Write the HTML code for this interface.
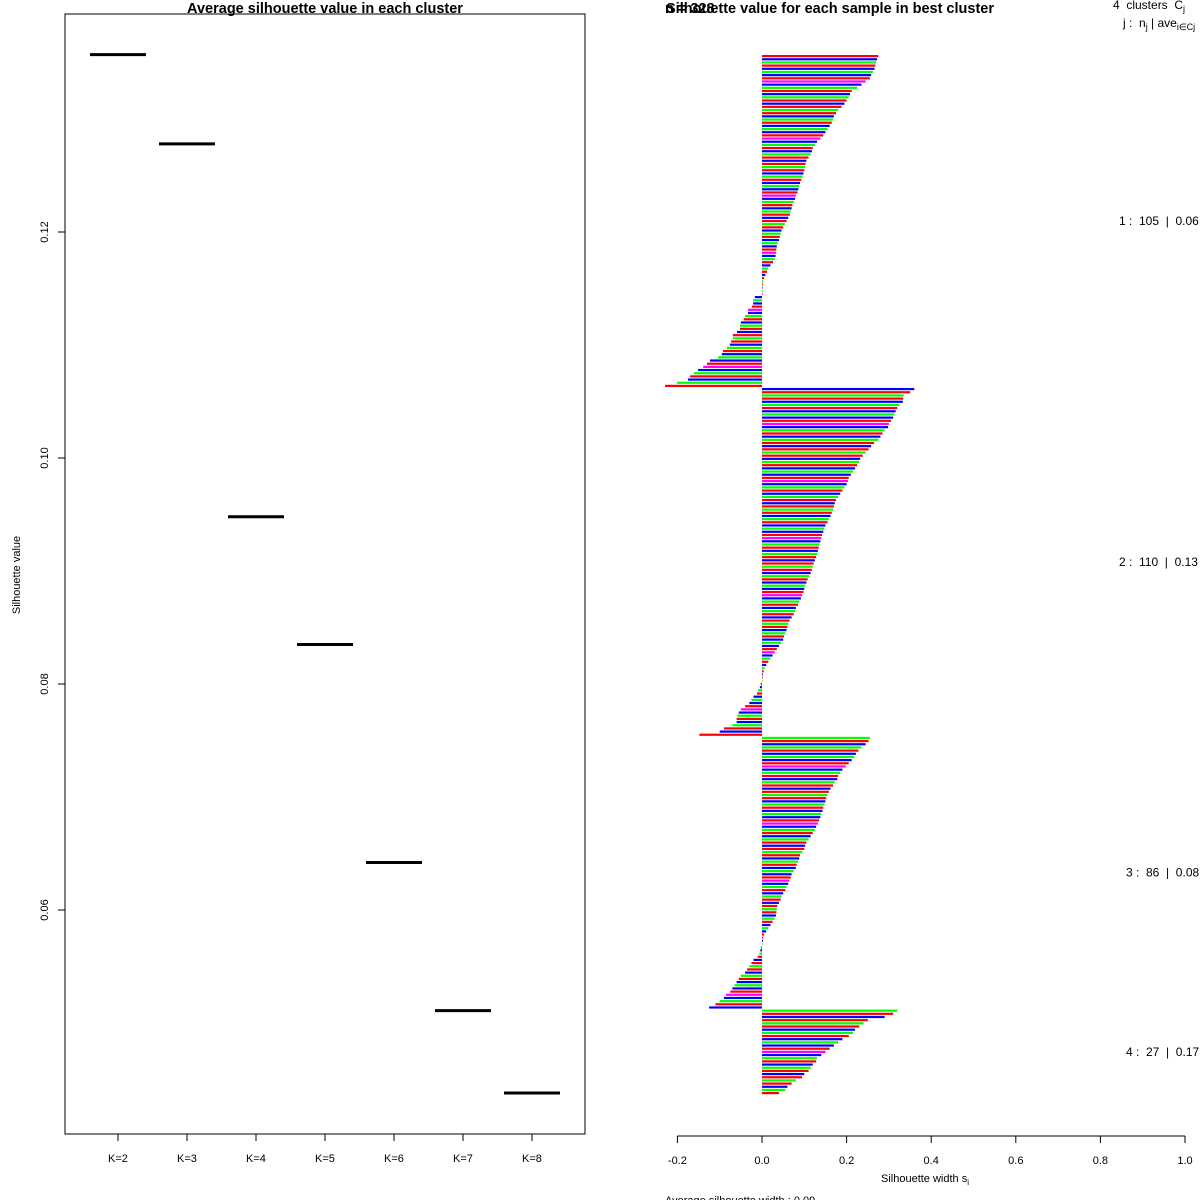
<!DOCTYPE html>
<html><head><meta charset="utf-8"><style>
body{margin:0;background:#fff}
svg{display:block;font-family:"Liberation Sans",sans-serif}
text{white-space:pre}
</style></head><body>
<svg id="s" width="1200" height="1200" viewBox="0 0 1200 1200">
<rect x="0" y="0" width="1200" height="1200" fill="#fff"/>
<g id="left">
<text x="325" y="13" text-anchor="middle" font-weight="bold" font-size="14.5">Average silhouette value in each cluster</text>
<rect x="65" y="14" width="520" height="1120" fill="none" stroke="#000" stroke-width="1"/>
<text transform="translate(20,575) rotate(-90)" text-anchor="middle" font-size="11">Silhouette value</text>
</g>
<g id="right">
<text x="665" y="13" font-weight="bold" font-size="14.5">n = 328</text>
<text x="830" y="13" text-anchor="middle" font-weight="bold" font-size="14.5">Silhouette value for each sample in best cluster</text>
<text x="1113" y="9" font-size="12">4  clusters  C<tspan font-size="9" dy="3">j</tspan></text>
<text x="1123" y="27" font-size="12">j :  n<tspan font-size="9" dy="3">j</tspan><tspan dy="-3"> | ave</tspan><tspan font-size="9" dy="3">i∈Cj</tspan><tspan dy="-3">  s</tspan></text>
<text x="925" y="1182" text-anchor="middle" font-size="11">Silhouette width s<tspan font-size="8" dy="3">i</tspan></text>
<text x="665" y="1204" font-size="11">Average silhouette width : 0.09</text>
</g>
<script>
const kLabels=["K=2","K=3","K=4","K=5","K=6","K=7","K=8"];
const kValues=[0.1357,0.1278,0.0948,0.0835,0.0642,0.0511,0.0438];
const yTicks=[0.06,0.08,0.10,0.12];
const xTicks=[-0.2,0,0.2,0.4,0.6,0.8,1.0];
const xTickLabels=["-0.2","0.0","0.2","0.4","0.6","0.8","1.0"];
const clusterSizes=[105,110,86,27];
const clusterAvg=["0.06","0.13","0.08","0.17"];
const sil1=[0.275,0.272,0.270,0.268,0.266,0.262,0.258,0.255,0.245,0.235,0.225,0.212,0.208,0.205,0.200,0.195,0.188,0.180,0.175,0.170,0.168,0.165,0.160,0.155,0.150,0.145,0.138,0.130,0.125,0.120,0.118,0.115,0.110,0.105,0.103,0.102,0.100,0.098,0.096,0.093,0.090,0.088,0.086,0.084,0.080,0.078,0.075,0.072,0.070,0.068,0.066,0.062,0.058,0.054,0.050,0.046,0.044,0.042,0.040,0.037,0.035,0.034,0.033,0.032,0.030,0.026,0.020,0.015,0.012,0.008,0.005,0.003,0.002,0.001,0.001,0.0005,
-0.017,-0.021,-0.021,-0.024,-0.033,-0.033,-0.040,-0.043,-0.050,-0.052,-0.052,-0.059,-0.069,-0.069,-0.073,-0.076,-0.083,-0.092,-0.095,-0.104,-0.123,-0.130,-0.139,-0.151,-0.161,-0.170,-0.175,-0.201,-0.229];
const sil2=[0.360,0.350,0.335,0.334,0.333,0.325,0.320,0.316,0.313,0.310,0.305,0.300,0.298,0.290,0.285,0.280,0.275,0.265,0.258,0.252,0.245,0.238,0.232,0.230,0.225,0.220,0.215,0.210,0.205,0.203,0.200,0.195,0.190,0.185,0.180,0.175,0.172,0.170,0.168,0.165,0.162,0.158,0.155,0.150,0.147,0.145,0.142,0.140,0.138,0.136,0.134,0.132,0.130,0.128,0.125,0.122,0.120,0.118,0.115,0.112,0.108,0.105,0.102,0.100,0.098,0.095,0.092,0.088,0.085,0.080,0.078,0.075,0.070,0.065,0.062,0.060,0.058,0.055,0.052,0.050,0.045,0.040,0.035,0.030,0.025,0.020,0.015,0.010,0.006,0.004,0.002,0.001,0.0005,
-0.003,-0.005,-0.010,-0.012,-0.020,-0.025,-0.030,-0.040,-0.050,-0.055,-0.058,-0.060,-0.060,-0.070,-0.090,-0.100,-0.148];
const sil3=[0.255,0.252,0.245,0.235,0.228,0.222,0.218,0.212,0.205,0.198,0.190,0.185,0.180,0.178,0.172,0.168,0.162,0.158,0.155,0.152,0.150,0.148,0.145,0.143,0.140,0.138,0.135,0.132,0.128,0.125,0.120,0.115,0.110,0.105,0.102,0.100,0.095,0.090,0.088,0.085,0.082,0.080,0.075,0.070,0.068,0.065,0.062,0.058,0.055,0.050,0.046,0.044,0.040,0.036,0.035,0.034,0.033,0.030,0.025,0.020,0.015,0.010,0.005,0.003,0.002,0.001,
-0.002,-0.004,-0.006,-0.010,-0.020,-0.025,-0.030,-0.035,-0.040,-0.050,-0.055,-0.060,-0.065,-0.070,-0.075,-0.085,-0.090,-0.100,-0.110,-0.125];
const sil4=[0.32,0.31,0.29,0.25,0.24,0.23,0.22,0.215,0.205,0.19,0.18,0.17,0.16,0.15,0.14,0.13,0.128,0.12,0.115,0.11,0.10,0.095,0.08,0.07,0.06,0.055,0.04];
const palette=["#ff0000","#0000ff","#00ff00","#ff0000","#0000ff","#00ff00","#0000ff","#ff0000","#ff00ff","#0000ff","#00ff00","#ff0000","#0000ff","#00ff00","#ff0000","#0000ff","#ff0000","#00ff00"];
const NS="http://www.w3.org/2000/svg";
const L=document.getElementById('left'),R=document.getElementById('right');
function mk(t,a,p){const e=document.createElementNS(NS,t);for(const k in a)e.setAttribute(k,a[k]);p.appendChild(e);return e;}
const ly=v=>232+(0.12-v)*11300;
const lx=i=>118+i*69;
yTicks.forEach(v=>{
 const t=mk('line',{x1:58,x2:65,y1:ly(v),y2:ly(v),stroke:'#000'},L);
 
 
 const tx=mk('text',{transform:`translate(48,${ly(v)}) rotate(-90)`,'text-anchor':'middle','font-size':11},L);
 tx.textContent=v.toFixed(2);
 
 
});
kLabels.forEach((k,i)=>{
 const t=mk('line',{x1:lx(i),x2:lx(i),y1:1134,y2:1141,stroke:'#000'},L);
 
 
 const tx=mk('text',{x:lx(i),y:1162,'text-anchor':'middle','font-size':11},L);
 tx.textContent=k;
 
 
 const s=mk('line',{x1:lx(i)-28,x2:lx(i)+28,y1:ly(kValues[i]),y2:ly(kValues[i]),stroke:'#000','stroke-width':3},L);
 
 
});
const rx=v=>762+v*423;
const ax=mk('line',{x1:rx(-0.2),x2:rx(1.0),y1:1136,y2:1136,stroke:'#000'},R);


xTicks.forEach((v,i)=>{
 const t=mk('line',{x1:rx(v),x2:rx(v),y1:1136,y2:1143,stroke:'#000'},R);
 
 
 const tx=mk('text',{x:rx(v),y:1164,'text-anchor':'middle','font-size':11},R);
 tx.textContent=xTickLabels[i];
 
 
});
const all=[sil1,sil2,sil3,sil4];
const total=all.reduce((a,b)=>a+b.length,0);
const step=(1093-56)/(total-1);
let idx=0;
all.forEach((arr,c)=>{
 const start=idx;
 arr.forEach(v=>{
  const y=56+idx*step;
  const x0=Math.min(rx(0),rx(v)),w=Math.abs(rx(v)-rx(0));
  const b=mk('rect',{x:x0,y:y-1,width:Math.max(w,0.6),height:2.2,fill:palette[idx%palette.length]},R);
  
  
  idx++;
 });
 const mid=56+((start+idx-1)/2)*step;
 const tx=mk('text',{x:(c<2?1119:1126),y:mid+4,'font-size':12},R);
 tx.textContent=`${c+1} :  ${clusterSizes[c]}  |  ${clusterAvg[c]}`;
 
 
});
</script>
</svg>
</body></html>
